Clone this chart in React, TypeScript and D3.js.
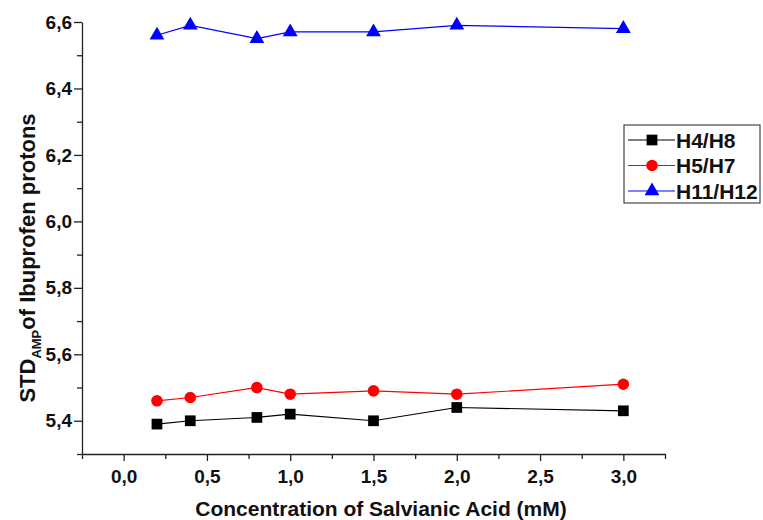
import { useRef, useEffect } from "react";
import * as d3 from "d3";

const concentrations = [0.2, 0.4, 0.8, 1.0, 1.5, 2.0, 3.0];
const h4h8 = [5.39, 5.4, 5.41, 5.42, 5.4, 5.44, 5.43];
const h5h7 = [5.46, 5.47, 5.5, 5.48, 5.49, 5.48, 5.51];
const h11h12 = [6.56, 6.59, 6.55, 6.57, 6.57, 6.59, 6.58];
const seriesNames = ["H4/H8", "H5/H7", "H11/H12"];
const xTicks = [0, 0.5, 1, 1.5, 2, 2.5, 3];
const yTicks = [5.4, 5.6, 5.8, 6.0, 6.2, 6.4, 6.6];

const FONT = "'Liberation Sans', Arial, sans-serif";

const App = () => {
  const svgRef = useRef<SVGSVGElement>(null);
  const width = 763;
  const height = 520;
  const margin = { top: 22, right: 98, bottom: 66, left: 82 };

  useEffect(() => {
    const svg = d3.select(svgRef.current);
    svg.selectAll("*").remove();

    const x = d3
      .scaleLinear()
      .domain([-0.25, 3.25])
      .range([margin.left, width - margin.right]);
    const y = d3
      .scaleLinear()
      .domain([5.3, 6.6])
      .range([height - margin.bottom, margin.top]);

    const fmt = (d: number) => d3.format(".1f")(d).replace(".", ",");

    // axes (major + minor ticks)
    const xAxis = svg
      .append("g")
      .attr("transform", `translate(0,${height - margin.bottom})`)
      .call(
        d3.axisBottom(x).tickValues(xTicks).tickSize(7).tickSizeOuter(0).tickPadding(9).tickFormat((d) => fmt(+d))
      );
    svg
      .append("g")
      .attr("transform", `translate(0,${height - margin.bottom})`)
      .call(d3.axisBottom(x).tickValues(d3.range(-0.25, 3.3, 0.5)).tickSize(5).tickSizeOuter(0).tickFormat(() => ""))
      .select(".domain")
      .remove();

    const yAxis = svg
      .append("g")
      .attr("transform", `translate(${margin.left},0)`)
      .call(
        d3.axisLeft(y).tickValues(yTicks).tickSize(8).tickSizeOuter(0).tickPadding(2).tickFormat((d) => fmt(+d))
      );
    svg
      .append("g")
      .attr("transform", `translate(${margin.left},0)`)
      .call(d3.axisLeft(y).tickValues(d3.range(5.3, 6.55, 0.2)).tickSize(5).tickSizeOuter(0).tickFormat(() => ""))
      .select(".domain")
      .remove();

    [xAxis, yAxis].forEach((ax) => {
      ax.selectAll("text")
        .attr("font-family", FONT)
        .attr("font-weight", "bold")
        .attr("font-size", 19)
        .attr("fill", "#111");
    });
    svg.selectAll(".domain, .tick line").attr("stroke", "#222").attr("stroke-width", 1.3);

    // axis titles
    svg
      .append("text")
      .attr("x", 381)
      .attr("y", 516)
      .attr("text-anchor", "middle")
      .attr("font-family", FONT)
      .attr("font-weight", "bold")
      .attr("font-size", 21)
      .attr("fill", "#111")
      .text("Concentration of Salvianic Acid (mM)");

    const yl = svg
      .append("text")
      .attr("transform", `translate(35,258) rotate(-90)`)
      .attr("text-anchor", "middle")
      .attr("font-family", FONT)
      .attr("font-weight", "bold")
      .attr("font-size", 22)
      .attr("fill", "#111");
    yl.append("tspan").text("STD");
    yl.append("tspan").attr("font-size", 13).attr("dy", 6).text("AMP");
    yl.append("tspan").attr("dy", -6).text("of Ibuprofen protons");

    const series = [
      { name: seriesNames[0], values: h4h8, color: "#000000", symbol: d3.symbolSquare, size: 115 },
      { name: seriesNames[1], values: h5h7, color: "#ff0000", symbol: d3.symbolCircle, size: 105 },
      { name: seriesNames[2], values: h11h12, color: "#0000ff", symbol: d3.symbolTriangle, size: 95 },
    ];

    const line = d3
      .line<[number, number]>()
      .x((d) => x(d[0]))
      .y((d) => y(d[1]));

    series.forEach((s) => {
      const pts = concentrations.map((c, i) => [c, s.values[i]] as [number, number]);
      svg
        .append("path")
        .datum(pts)
        .attr("fill", "none")
        .attr("stroke", s.color)
        .attr("stroke-width", 1.2)
        .attr("d", line);
      svg
        .selectAll(null)
        .data(pts)
        .join("path")
        .attr("transform", (d) => `translate(${x(d[0])},${y(d[1])})`)
        .attr("d", d3.symbol().type(s.symbol).size(s.size)())
        .attr("fill", s.color);
    });

    // legend
    const lg = svg.append("g").attr("transform", "translate(624,125)");
    lg.append("rect")
      .attr("width", 136)
      .attr("height", 78)
      .attr("fill", "white")
      .attr("stroke", "#222")
      .attr("stroke-width", 1);
    series.forEach((s, i) => {
      const cy = 15 + i * 25.5;
      lg.append("line")
        .attr("x1", 4)
        .attr("x2", 51)
        .attr("y1", cy)
        .attr("y2", cy)
        .attr("stroke", s.color)
        .attr("stroke-width", 1.2);
      lg.append("path")
        .attr("transform", `translate(28,${cy})`)
        .attr("d", d3.symbol().type(s.symbol).size(s.size)())
        .attr("fill", s.color);
      lg.append("text")
        .attr("x", 52)
        .attr("y", cy + 7.5)
        .attr("font-family", FONT)
        .attr("font-weight", "bold")
        .attr("font-size", 21)
        .attr("fill", "#111")
        .text(s.name);
    });
  }, []);

  return (
    <svg
      ref={svgRef}
      width={width}
      height={height}
      style={{ position: "absolute", left: 0, top: 0, background: "white" }}
    />
  );
};

export default App;
